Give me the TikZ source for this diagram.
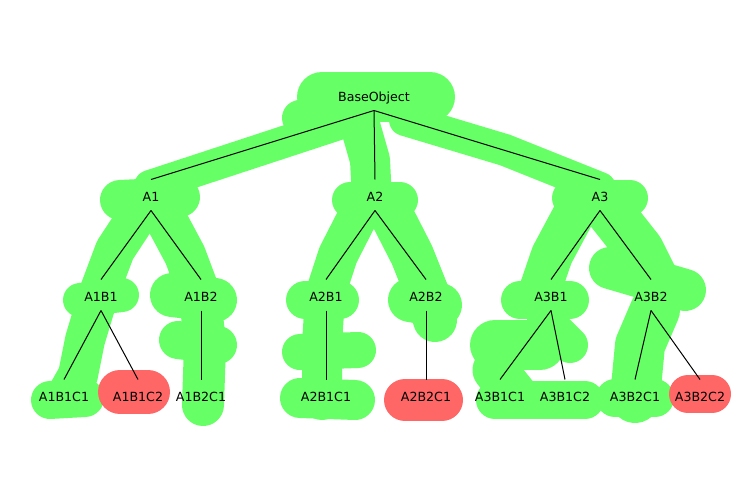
\documentclass[tikz,border=0pt]{standalone}
\usepackage{fontspec}
\setmainfont{DejaVu Sans}
\usetikzlibrary{positioning}
\definecolor{hlgreen}{RGB}{102,255,102}
\definecolor{hlred}{RGB}{255,102,102}

\begin{document}
\begin{tikzpicture}[x=1pt,y=-1pt,-,line width=1pt,node distance=100pt,
    main node/.style={inner sep=0pt,text height=21.5pt,text depth=8.5pt,font=\fontsize{12.6}{15}\selectfont},
    green blob/.style={draw=hlgreen,line width=#1,line cap=round,line join=round},
    red blob/.style={draw=hlred,line width=#1,line cap=round,line join=round}]
    \useasboundingbox (0,0) rectangle (750,500);

    % highlight strokes
    \path[green blob=50] (322,97) -- (430,97);
    \path[green blob=36] (300,118) -- (330,110);
    \path[green blob=32] (345,122) -- (150,186);
    \path[green blob=32] (405,120) -- (505,150) -- (600,188);
    \path[green blob=40] (358,118) -- (370,160) -- (372,200);
    \path[green blob=40] (120,200) -- (180,197);
    \path[green blob=36] (350,200) -- (400,200);
    \path[green blob=36] (570,198) -- (630,198);
    \path[green blob=40] (140,212) -- (115,250) -- (100,290) -- (85,340) -- (78,375) -- (65,398);
    \path[green blob=34] (80,300) -- (122,295);
    \path[green blob=38] (50,400) -- (85,398);
    \path[green blob=42] (162,212) -- (185,255) -- (200,295) -- (205,345) -- (203,405);
    \path[green blob=44] (172,295) -- (215,300);
    \path[green blob=38] (178,340) -- (218,345);
    \path[green blob=40] (360,212) -- (338,255) -- (325,295) -- (322,345) -- (322,400);
    \path[green blob=38] (305,300) -- (340,300);
    \path[green blob=36] (300,352) -- (358,350);
    \path[green blob=40] (300,398) -- (355,400);
    \path[green blob=44] (390,212) -- (412,255) -- (428,295) -- (435,320);
    \path[green blob=44] (410,300) -- (440,305);
    \path[green blob=42] (575,212) -- (552,255) -- (540,290);
    \path[green blob=38] (520,300) -- (570,300);
    \path[green blob=36] (545,320) -- (570,345);
    \path[green blob=50] (495,345) -- (540,345);
    \path[green blob=45] (495,370) -- (515,395);
    \path[green blob=38] (495,400) -- (585,400);
    \path[green blob=48] (610,212) -- (640,250) -- (660,290);
    \path[green blob=42] (610,268) -- (685,290);
    \path[green blob=50] (655,310) -- (640,345) -- (635,398);
    \path[green blob=38] (615,398) -- (655,398);
    \path[red blob=44] (120,392) -- (148,392);
    \path[red blob=42] (405,400) -- (442,400);
    \path[red blob=38] (688,394) -- (712,394);

    \node[main node] (base) at (374,95) {BaseObject};
    \node[main node] (A1) [below of = base, xshift=-223] {A1};
    \node[main node] (A2) [below of = base, xshift=1] {A2};
    \node[main node] (A3) [below of = base, xshift=226] {A3};
    \node[main node] (A1B1) [below of = A1, xshift=-50] {A1B1};
    \node[main node] (A1B2) [below of = A1, xshift=50] {A1B2};
    \node[main node] (A2B1) [below of = A2, xshift=-49] {A2B1};
    \node[main node] (A2B2) [below of = A2, xshift=51] {A2B2};
    \node[main node] (A3B1) [below of = A3, xshift=-49] {A3B1};
    \node[main node] (A3B2) [below of = A3, xshift=51] {A3B2};
    \node[main node] (A1B1C1) [below of = A1B1, xshift=-37] {A1B1C1};
    \node[main node] (A1B1C2) [below of = A1B1, xshift=37] {A1B1C2};
    \node[main node] (A1B2C1) [below of = A1B2] {A1B2C1};
    \node[main node] (A2B1C1) [below of = A2B1] {A2B1C1};
    \node[main node] (A2B2C1) [below of = A2B2] {A2B2C1};
    \node[main node] (A3B1C1) [below of = A3B1, xshift=-51] {A3B1C1};
    \node[main node] (A3B1C2) [below of = A3B1, xshift=14] {A3B1C2};
    \node[main node] (A3B2C1) [below of = A3B2, xshift=-16] {A3B2C1};
    \node[main node] (A3B2C2) [below of = A3B2, xshift=49] {A3B2C2};

    \path
        (base.south) edge (A1.north)
        (base.south) edge (A2.north)
        (base.south) edge (A3.north)
        (A1.south) edge (A1B1.north)
        (A1.south) edge (A1B2.north)
        (A2.south) edge (A2B1.north)
        (A2.south) edge (A2B2.north)
        (A3.south) edge (A3B1.north)
        (A3.south) edge (A3B2.north)
        (A1B1.south) edge (A1B1C1.north)
        (A1B1.south) edge (A1B1C2.north)
        (A1B2.south) edge (A1B2C1.north)
        (A2B1.south) edge (A2B1C1.north)
        (A2B2.south) edge (A2B2C1.north)
        (A3B1.south) edge (A3B1C1.north)
        (A3B1.south) edge (A3B1C2.north)
        (A3B2.south) edge (A3B2C1.north)
        (A3B2.south) edge (A3B2C2.north)
        ;
\end{tikzpicture}
\end{document}
